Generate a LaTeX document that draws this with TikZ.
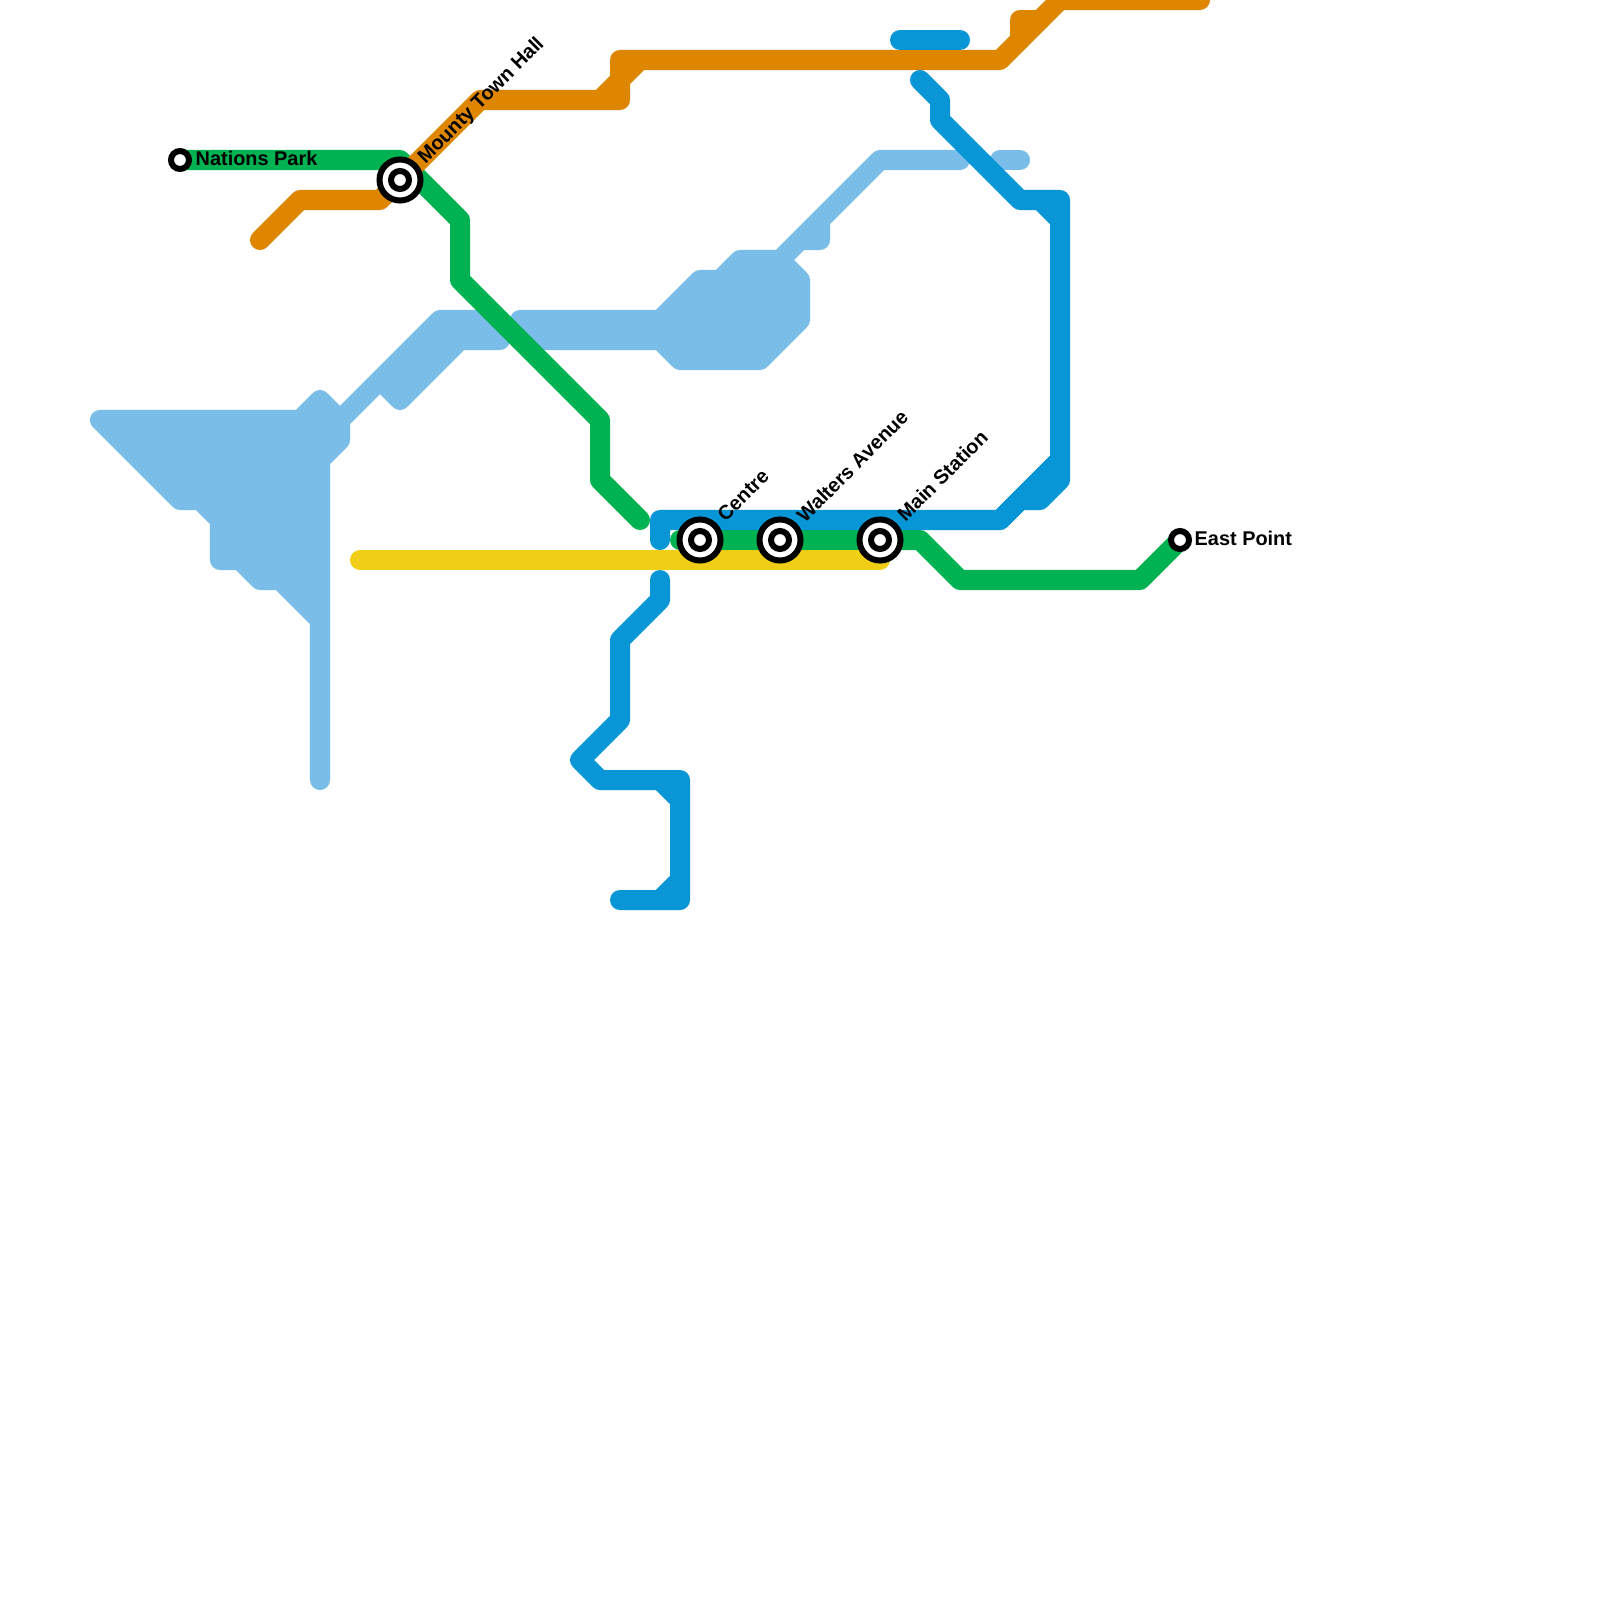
\documentclass[tikz,border=0pt]{standalone}
\usepackage{fontspec}
\setmainfont{Liberation Sans}
\definecolor{lgreen}{HTML}{00B251}
\definecolor{lorange}{HTML}{DF8600}
\definecolor{lblue}{HTML}{0896D7}
\definecolor{lyellow}{HTML}{F0CE15}
\definecolor{llight}{HTML}{7ABDE8}
\tikzset{
  metro/.style={line width=0.2cm,line cap=round,line join=round},
  mass/.style={metro,draw=llight,fill=llight},
  ringout/.style={circle,draw=black,line width=0.06cm,fill=white,inner sep=0pt,minimum size=0.41cm},
  ringin/.style={circle,draw=black,line width=0.06cm,fill=white,inner sep=0pt,minimum size=0.18cm},
  terminus/.style={circle,draw=black,line width=0.06cm,fill=white,inner sep=0pt,minimum size=0.18cm},
  lab/.style={font=\bfseries\fontsize{5.66}{6.5}\selectfont,text=black,inner sep=0pt,anchor=base west},
  dlab/.style={lab,rotate=45}
}
\begin{document}
\begin{tikzpicture}[x=0.01cm,y=-0.01cm]
\clip (0,0) rectangle (1600,1600);
\fill[white] (0,0) rectangle (1600,1600);
% stations
\coordinate (nations) at (180,160);
\coordinate (mounty) at (400,180);
\coordinate (centre) at (700,540);
\coordinate (walters) at (780,540);
\coordinate (mainst) at (880,540);
\coordinate (east) at (1180,540);
% light blue line masses
\draw[mass] (100,420) -- (300,420) -- (320,400) -- (340,420) -- (440,320) -- (500,320) -- (500,340) -- (460,340) -- (400,400) -- (380,380) -- (340,420) -- (340,440) -- (320,460) -- (320,780) -- (320,620) -- (280,580) -- (260,580) -- (240,560) -- (220,560) -- (220,520) -- (200,500) -- (180,500) -- cycle;
\draw[mass] (520,320) -- (660,320) -- (700,280) -- (720,280) -- (740,260) -- (780,260) -- (880,160) -- (960,160) -- (880,160) -- (820,220) -- (820,240) -- (800,240) -- (780,260) -- (800,280) -- (800,320) -- (760,360) -- (680,360) -- (660,340) -- (520,340) -- cycle;
\draw[metro,llight] (1000,160) -- (1020,160);
% green
\draw[metro,lgreen] (nations) -- (400,160) -- (460,220) -- (460,280) -- (600,420) -- (600,480) -- (640,520);
\draw[metro,lgreen] (680,540) -- (920,540) -- (960,580) -- (1140,580) -- (east);
% yellow
\draw[metro,lyellow] (360,560) -- (880,560);
% orange
\draw[metro,lorange] (260,240) -- (300,200) -- (380,200) -- (mounty) -- (480,100) -- (620,100) -- (620,60) -- (1000,60) -- (1060,0) -- (1200,0);
\draw[metro,lorange] (600,100) -- (640,60);
\draw[metro,lorange] (1020,40) -- (1020,20) -- (1040,20);
% blue
\draw[metro,lblue] (660,540) -- (660,520) -- (1000,520) -- (1060,460);
\draw[metro,lblue] (1000,520) -- (1020,500) -- (1040,500) -- (1060,480) -- (1060,200) -- (1020,200) -- (940,120) -- (940,100) -- (920,80);
\draw[metro,lblue] (1040,200) -- (1060,220);
\draw[metro,lblue] (1020,500) -- (1060,460);
\draw[metro,lblue] (900,40) -- (960,40);
\draw[metro,lblue] (660,580) -- (660,600) -- (620,640) -- (620,720) -- (580,760) -- (600,780) -- (680,780) -- (680,900) -- (620,900);
\draw[metro,lblue] (660,780) -- (680,800);
\draw[metro,lblue] (660,900) -- (680,880);
% station markers
\node[terminus] (mNations) at (nations) {};
\node[terminus] (mEast) at (east) {};
\foreach \s in {mounty,centre,walters,mainst}{
  \node[ringout] (o\s) at (\s) {};
  \node[ringin] (i\s) at (\s) {};
}
% labels
\node[lab] (tNations) at (195,165.5) {Nations Park};
\node[lab] (tEast) at (1194,545.5) {East Point};
\node[dlab] (tMounty) at (425,165) {Mounty Town Hall};
\node[dlab] (tCentre) at (725,523) {Centre};
\node[dlab] (tWalters) at (804.5,524) {Walters Avenue};
\node[dlab] (tMain) at (905,523) {Main Station};
\end{tikzpicture}
\end{document}
